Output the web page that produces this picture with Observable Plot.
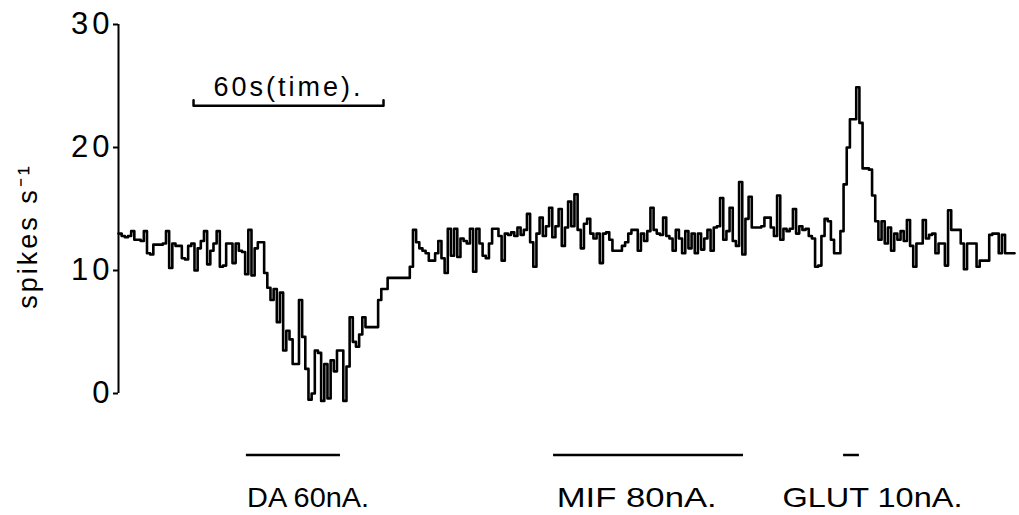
<!DOCTYPE html>
<html>
<head>
<meta charset="utf-8">
<script src="https://cdn.jsdelivr.net/npm/d3@7"></script>
<script src="https://cdn.jsdelivr.net/npm/@observablehq/plot@0.6"></script>
<style>
  html, body { margin: 0; padding: 0; background: #fff; }
  #chart svg { display: block; }
</style>
</head>
<body>
<div id="chart"></div>
<script>
// Firing rate (spikes/s), one value per 1-s bin, read from the ratemeter record
const binSeconds = 1;
const rate = [
  13.0, 12.8, 12.7, 12.8, 13.2, 12.5, 12.5, 12.4, 13.2, 11.4,
  11.3, 12.1, 12.1, 12.1, 12.2, 13.2, 10.2, 12.2, 12.0, 12.0,
  11.0, 10.9, 12.0, 12.2, 10.0, 11.8, 12.4, 13.2, 10.5, 11.6,
  12.2, 13.2, 10.3, 10.4, 12.2, 12.2, 10.6, 12.2, 11.6, 11.5,
  9.7, 13.3, 9.6, 11.8, 12.3, 12.3, 9.8, 8.6, 7.6, 8.5,
  5.8, 8.2, 3.5, 5.1, 4.4, 2.4, 2.4, 7.6, 4.6, 2.0,
  -0.5, 0.0, 3.5, 3.3, -0.6, 2.4, -0.4, 2.7, 1.8, 3.5,
  3.5, -0.6, 2.2, 6.2, 4.2, 3.8, 4.8, 6.2, 5.4, 5.4,
  5.4, 5.4, 7.6, 8.5, 8.5, 9.4, 9.4, 9.4, 9.4, 9.4,
  9.4, 9.4, 10.3, 13.3, 12.3, 11.8, 11.6, 11.4, 10.8, 10.8,
  11.4, 12.4, 11.0, 9.8, 13.4, 11.2, 13.4, 11.1, 12.6, 12.4,
  12.2, 13.4, 9.9, 13.4, 12.2, 11.2, 11.0, 12.2, 13.4, 13.4,
  12.8, 10.8, 13.0, 12.9, 13.1, 12.8, 13.5, 12.9, 13.3, 14.6,
  12.3, 10.3, 13.0, 14.3, 12.8, 13.6, 15.1, 12.7, 13.6, 15.0,
  12.0, 13.5, 15.6, 13.6, 16.2, 13.3, 11.8, 13.8, 14.2, 13.0,
  12.6, 13.0, 10.6, 13.0, 13.1, 12.5, 11.6, 11.6, 11.6, 12.0,
  12.3, 13.0, 13.3, 13.3, 11.6, 13.0, 12.4, 13.2, 15.1, 13.3,
  13.0, 12.9, 14.3, 12.8, 12.6, 11.6, 13.3, 12.6, 11.4, 13.2,
  11.8, 13.0, 11.4, 13.0, 11.7, 12.6, 13.3, 11.6, 13.5, 13.6,
  15.9, 12.5, 13.2, 15.1, 12.4, 12.0, 17.2, 11.3, 14.2, 16.0,
  13.5, 13.5, 13.5, 13.6, 14.3, 14.3, 13.5, 12.8, 16.1, 12.5,
  13.4, 13.2, 13.4, 15.0, 13.0, 13.6, 13.3, 13.4, 12.8, 12.6,
  10.3, 10.4, 12.8, 14.2, 14.0, 12.5, 11.4, 11.4, 13.2, 17.0,
  20.0, 22.3, 22.3, 24.9, 22.0, 18.3, 18.3, 18.2, 16.1, 14.0,
  12.5, 14.0, 12.2, 13.5, 11.6, 13.0, 12.5, 13.2, 12.4, 14.1,
  12.0, 10.3, 12.2, 12.2, 14.1, 12.6, 12.9, 13.0, 11.4, 12.2,
  12.2, 10.4, 14.9, 13.3, 13.3, 13.3, 12.2, 10.1, 12.2, 12.2,
  12.2, 10.3, 10.8, 10.8, 10.8, 12.9, 13.0, 13.0, 11.4, 12.9,
  11.4, 11.4, 11.4
];

// Y axis ticks and label
const yTicks = [0, 10, 20, 30];
const yLabel = "spikes s\u207B\u00B9";

// Time scale bar (seconds)
const scaleBarStart = 23.7;
const scaleBarLength = 60;
const scaleBarText = "60s(time).";
const scaleBarLevel = 23.4;

// Drug application periods (seconds)
const drugNames  = ["DA 60nA.", "MIF 80nA.", "GLUT 10nA."];
const drugStart  = [40.4, 137.4, 229.0];
const drugEnd    = [70.1, 197.4, 234.0];
const drugBarLevel = -5.0;
const drugLabelLevel = -8.5;
const drugLabelStart = [40.6, 138.4, 209.7];
// rendered widths of the hand-lettered labels (px)
const drugLabelWidth = [122, 160, 180];

// Build tables for the marks
const trace = rate.map((v, i) => ({t: i * binSeconds, v}));
trace.push({t: rate.length * binSeconds, v: rate[rate.length - 1]});

const scaleEnd = scaleBarStart + scaleBarLength;
const scaleBar = [
  {t: scaleBarStart, v: scaleBarLevel + 0.45},
  {t: scaleBarStart, v: scaleBarLevel},
  {t: scaleEnd, v: scaleBarLevel},
  {t: scaleEnd, v: scaleBarLevel + 0.45}
];
const drugs = drugNames.map((name, i) => ({name, start: drugStart[i], end: drugEnd[i], labelX: drugLabelStart[i], w: drugLabelWidth[i]}));

const chart = Plot.plot({
  width: 1019,
  height: 515,
  marginLeft: 118,
  marginRight: 4,
  marginTop: 24,
  marginBottom: 122,
  x: {domain: [0, 283.3], axis: null},
  y: {domain: [0, 30]},
  style: {fontFamily: "Liberation Sans, Arial, sans-serif", background: "white", color: "black", overflow: "visible"},
  marks: [
    Plot.ruleX([0], {y1: 0, y2: 30, strokeWidth: 2, stroke: "black"}),
    Plot.axisY({ticks: yTicks, tickSize: 5, tickPadding: 0, fontSize: 31, label: null, strokeWidth: 2, stroke: "black", className: "yax"}),
    Plot.line(trace, {x: "t", y: "v", curve: "step-after", stroke: "black", strokeWidth: 2.6}),
    Plot.line(scaleBar, {x: "t", y: "v", stroke: "black", strokeWidth: 2.5}),
    Plot.text([scaleBarText], {x: scaleBarStart + scaleBarLength / 2, y: scaleBarLevel, dy: -18, fontSize: 27, fill: "black", className: "lbl"}),
    Plot.ruleY(drugs, {x1: "start", x2: "end", y: drugBarLevel, stroke: "black", strokeWidth: 2.5}),
    Plot.text(drugs, {x: "labelX", y: drugLabelLevel, text: "name", textAnchor: "start", fontSize: 28, fill: "black", className: "drug"}),
    Plot.text([yLabel], {frameAnchor: "left", textAnchor: "middle", rotate: -90, dx: -90, dy: 27, fontSize: 27, fill: "black", className: "lbl"})
  ]
});

document.getElementById("chart").appendChild(chart);
d3.select(chart).selectAll(".lbl text").style("letter-spacing", "3px");
d3.select(chart).selectAll(".yax text").style("letter-spacing", "4px");
d3.select(chart).selectAll(".drug text").each(function(_, j) {
  d3.select(this).attr("textLength", drugs[j].w).attr("lengthAdjust", "spacingAndGlyphs");
});
</script>
</body>
</html>
